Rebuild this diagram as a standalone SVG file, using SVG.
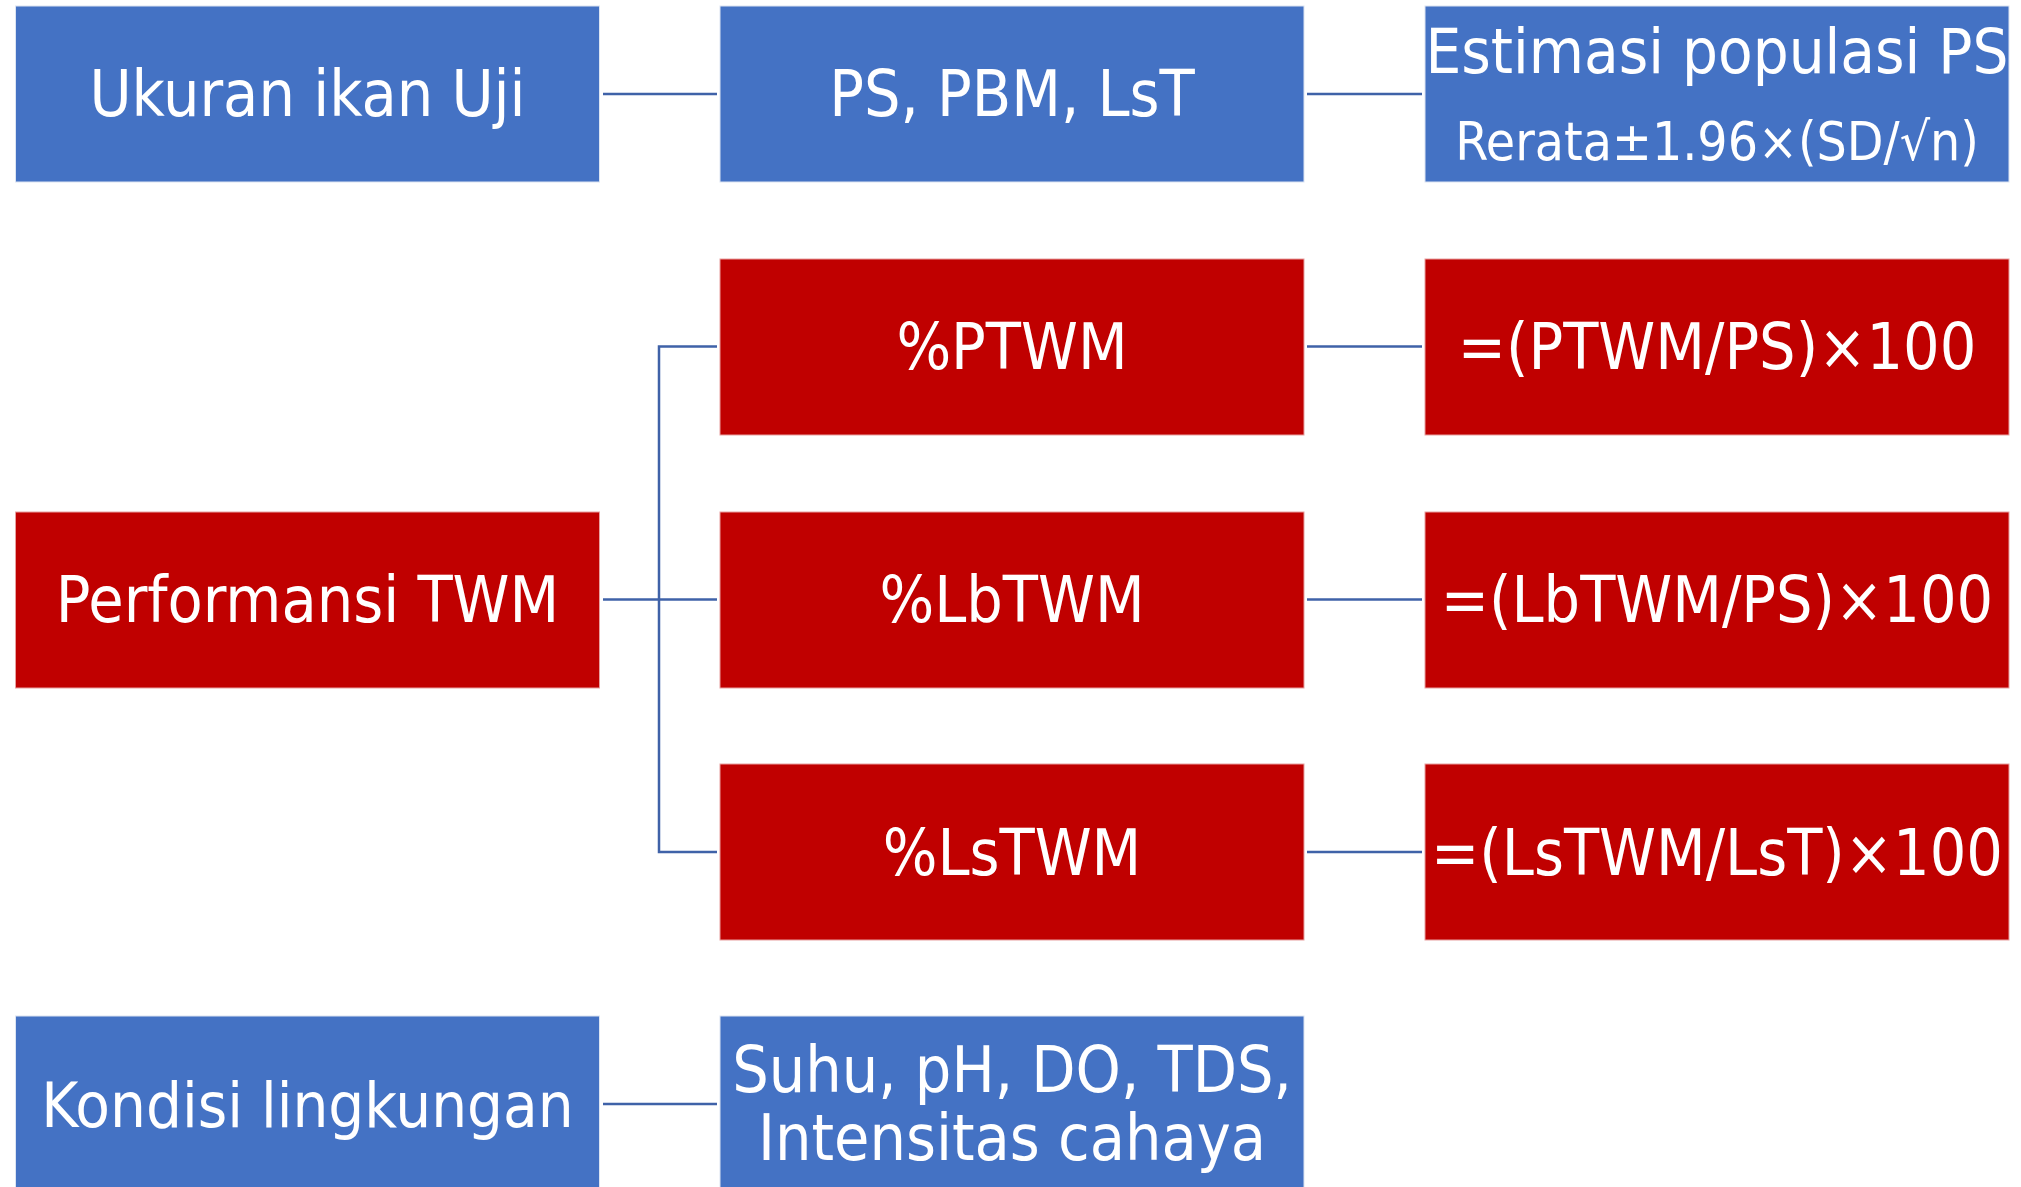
<svg xmlns="http://www.w3.org/2000/svg" width="2021" height="1187" viewBox="0 0 2021 1187">
<style>
.b{fill:#4472C4;stroke:#DCE4F2;stroke-width:1}
.r{fill:#C00000;stroke:#E8A0A0;stroke-width:1}
text{font-family:"DejaVu Sans Condensed","DejaVu Sans",sans-serif;fill:#fff;text-anchor:middle;font-size:64px}
.s{font-size:53px}
.e{font-size:63px}
#connectors path{fill:none;stroke:#3F62A8;stroke-width:2.5}
</style>
<rect width="2021" height="1187" fill="#fff"/>
<g id="connectors">
<path d="M603 94H717"/>
<path d="M1307 94H1422"/>
<path d="M603 599.5H659"/>
<path d="M717 346.5H659V852H717"/>
<path d="M659 599.5H717"/>
<path d="M1307 346.5H1422"/>
<path d="M1307 599.5H1422"/>
<path d="M1307 852H1422"/>
<path d="M603 1104H717"/>
</g>
<g id="n1"><rect class="b" x="15.5" y="6" width="584" height="176"/><text x="307.5" y="116">Ukuran ikan Uji</text></g>
<g id="n2"><rect class="b" x="720" y="6" width="584" height="176"/><text x="1012" y="116">PS, PBM, LsT</text></g>
<g id="n3"><rect class="b" x="1425" y="6" width="584" height="176"/><text class="e" x="1717" y="73">Estimasi populasi PS</text><text class="s" x="1717" y="160">Rerata±1.96×(SD/√n)</text></g>
<g id="n4"><rect class="r" x="720" y="259" width="584" height="176"/><text x="1012" y="369">%PTWM</text></g>
<g id="n5"><rect class="r" x="1425" y="259" width="584" height="176"/><text x="1717" y="369">=(PTWM/PS)×100</text></g>
<g id="n6"><rect class="r" x="15.5" y="512" width="584" height="176"/><text x="307.5" y="622">Performansi TWM</text></g>
<g id="n7"><rect class="r" x="720" y="512" width="584" height="176"/><text x="1012" y="622">%LbTWM</text></g>
<g id="n8"><rect class="r" x="1425" y="512" width="584" height="176"/><text x="1717" y="622">=(LbTWM/PS)×100</text></g>
<g id="n9"><rect class="r" x="720" y="764" width="584" height="176"/><text x="1012" y="875">%LsTWM</text></g>
<g id="n10"><rect class="r" x="1425" y="764" width="584" height="176"/><text x="1717" y="875">=(LsTWM/LsT)×100</text></g>
<g id="n11"><rect class="b" x="15.5" y="1016" width="584" height="180"/><text x="307.5" y="1127" style="font-size:63px">Kondisi lingkungan</text></g>
<g id="n12"><rect class="b" x="720" y="1016" width="584" height="180"/><text x="1012" y="1092">Suhu, pH, DO, TDS,</text><text x="1012" y="1160">Intensitas cahaya</text></g>
</svg>
